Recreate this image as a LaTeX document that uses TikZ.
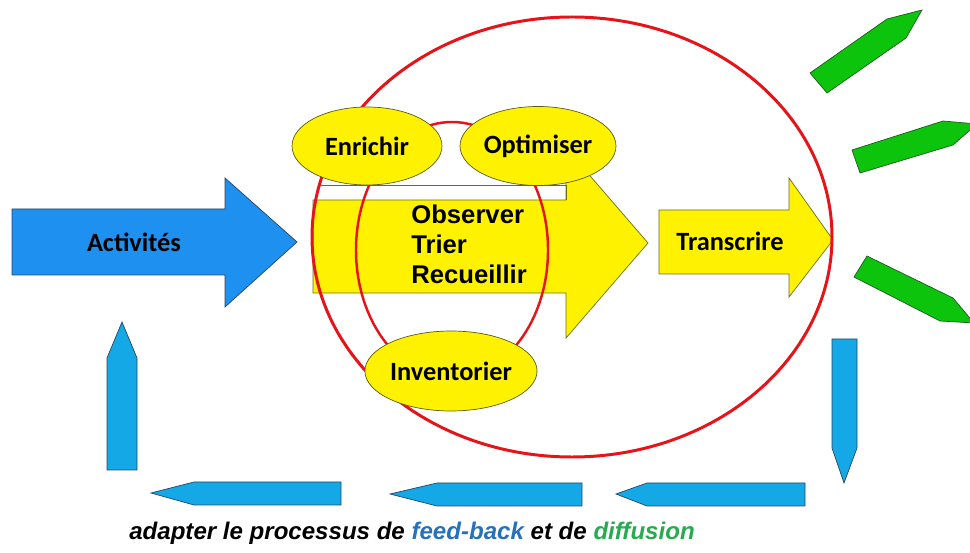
\documentclass[tikz,border=0pt]{standalone}
\usepackage{fontspec}
\setmainfont{Liberation Sans}
\newfontfamily\calib{Carlito}
\usetikzlibrary{shapes.geometric}
\definecolor{actblue}{RGB}{30,144,240}
\definecolor{fbblue}{RGB}{20,168,230}
\definecolor{vertf}{RGB}{12,196,12}
\definecolor{rouge}{RGB}{230,20,25}
\definecolor{capblue}{RGB}{40,112,185}
\definecolor{capgreen}{RGB}{40,170,80}

\begin{document}
\begin{tikzpicture}[x=0.02cm,y=-0.02cm,
    jaune/.style={fill=yellow,draw={rgb,255:red,110;green,110;blue,20}},
    bleu/.style={fill=#1,draw={rgb,255:red,40;green,70;blue,100}},
    vert/.style={fill=vertf,draw={rgb,255:red,30;green,90;blue,30}},
    bulle/.style={ellipse,draw={rgb,255:red,90;green,90;blue,20},fill=yellow,inner sep=0pt,
        font=\calib\bfseries\fontsize{15}{18}\selectfont},
    lab/.style={font=\calib\bfseries\fontsize{15}{18}\selectfont}]
    \useasboundingbox (0,0) rectangle (970,553);
    \clip (0,0) rectangle (970,553);

    % Fleche Activites
    \draw[bleu=actblue] (12,209) -- (225,209) -- (225,178) -- (297,242) -- (225,307) -- (225,275) -- (12,275) -- cycle;
    \node[lab] (act) at (134,242) {Activités};

    % Grande fleche jaune
    \draw[jaune] (313,200) -- (566,200) -- (566,148) -- (648,243) -- (566,338) -- (566,293) -- (313,293) -- cycle;
    \draw[draw={rgb,255:red,110;green,110;blue,20}] (320,185) -- (566,185) -- (566,200);
    \foreach \t/\y/\n in {Observer/224/obs,Trier/254/tri,Recueillir/284/rec}
        \node[anchor=base west,inner sep=0pt,font=\bfseries\fontsize{14.6}{17}\selectfont] (\n) at (411,\y) {\t};

    % Fleche Transcrire
    \draw[jaune] (659,210) -- (789,210) -- (789,178) -- (833,240) -- (789,297) -- (789,274) -- (659,274) -- cycle;
    \node[lab] (trans) at (730,241) {Transcrire};

    % Cercles rouges
    \draw[rouge,line width=1.7pt] (572,237) ellipse [x radius=260, y radius=220];
    \draw[rouge,line width=1.4pt] (452,250) ellipse [x radius=96, y radius=128];

    % Bulles
    \node[bulle,minimum width=3cm,minimum height=1.56cm] (enr) at (367,146) {Enrichir};
    \node[bulle,minimum width=3.12cm,minimum height=1.58cm] (opt) at (538,146) {Optimiser};
    \node[bulle,minimum width=3.12cm,minimum height=1.6cm] (inv) at (451,371) {Inventorier};

    % Diffusion
    \draw[vert] (810,73) -- (887,19) -- (922,10) -- (906,38) -- (827,93) -- cycle;
    \draw[vert] (852,150) -- (943,121) -- (977,124) -- (953,145) -- (860,173) -- cycle;
    \draw[vert] (867,256) -- (953,298) -- (974,323) -- (940,321) -- (854,277) -- cycle;

    % Feed-back
    \draw[bleu=fbblue] (832,339) -- (857,339) -- (857,448) -- (844,483) -- (832,448) -- cycle;
    \draw[bleu=fbblue] (805,483) -- (647,483) -- (616,494) -- (647,506) -- (805,506) -- cycle;
    \draw[bleu=fbblue] (582,483) -- (437,483) -- (390,494) -- (437,506) -- (582,506) -- cycle;
    \draw[bleu=fbblue] (341,482) -- (194,482) -- (151,493) -- (194,505) -- (341,505) -- cycle;
    \draw[bleu=fbblue] (107,470) -- (107,358) -- (122,322) -- (137,358) -- (137,470) -- cycle;

    % Legende
    \node[anchor=base,inner sep=0pt,font=\bfseries\itshape\fontsize{13.7}{16}\selectfont] (leg) at (412,540)
        {adapter le processus de \textcolor{capblue}{feed-back} et de \textcolor{capgreen}{diffusion}};
\end{tikzpicture}
\end{document}
